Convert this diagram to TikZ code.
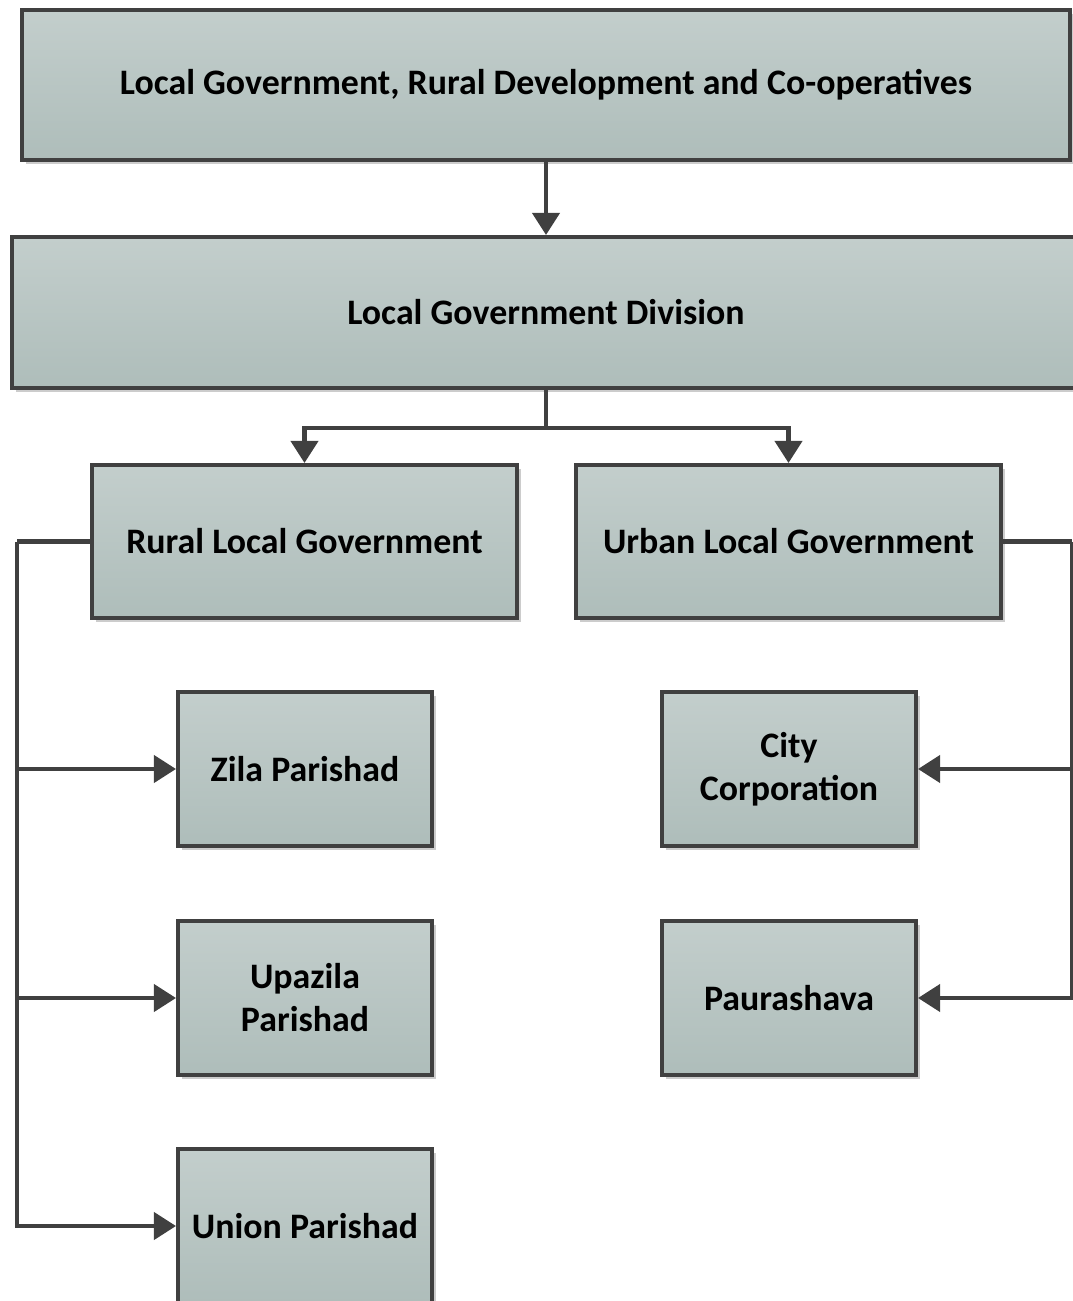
\documentclass[tikz,border=0pt]{standalone}
\usepackage{fontspec}
\setmainfont{Carlito}
\usetikzlibrary{arrows.meta,shadows}
\definecolor{boxtop}{HTML}{C3CECC}
\definecolor{boxbot}{HTML}{AEBDBA}
\definecolor{edge}{HTML}{404040}
\begin{document}
\begin{tikzpicture}[
    box/.style={draw=edge, line width=2.3pt, top color=boxtop, bottom color=boxbot,
      font=\bfseries\fontsize{20.4}{24.5}\selectfont, align=center, inner sep=0pt,
      drop shadow={shadow xshift=2pt, shadow yshift=-2pt, opacity=0.2, fill=black}},
    wide/.style={box, minimum width=8.5cm, minimum height=3.06cm},
    small/.style={box, minimum width=5.08cm, minimum height=3.08cm},
    link/.style={draw=edge, line width=2.3pt},
    arr/.style={link, -{Triangle[length=0.44cm,width=0.54cm]}}
  ]
  \useasboundingbox (0,0) rectangle (21.46,-26.02);
  % ministry and division
  \node [box, minimum width=20.96cm, minimum height=3cm] (lgrd) at (10.92,-1.7) {Local Government, Rural Development and Co-operatives};
  \node [box, minimum width=21.36cm, minimum height=3.02cm] (lgd) at (10.92,-6.25) {Local Government Division};
  % two branches
  \node [wide] (rural) at (6.09,-10.83) {Rural Local Government};
  \node [wide] (urban) at (15.77,-10.83) {Urban Local Government};
  % rural bodies
  \node [small] (zila) at (6.1,-15.38) {Zila Parishad};
  \node [small] (upazila) at (6.1,-19.96) {Upazila\\Parishad};
  \node [small] (union) at (6.1,-24.52) {Union Parishad};
  % urban bodies
  \node [small] (city) at (15.78,-15.38) {City\\Corporation};
  \node [small] (paura) at (15.78,-19.96) {Paurashava};
  \coordinate (split) at (10.92,-8.56);
  \coordinate (lbus) at (0.34,-10.83);
  \coordinate (rbus) at (21.44,-10.83);
  \draw [arr] (lgrd) -- (lgd);
  \draw [link] (lgd) -- (split);
  \draw [arr] (split) -| (rural);
  \draw [arr] (split) -| (urban);
  \draw [link] (rural) -- (lbus);
  \draw [arr] (lbus) |- (zila);
  \draw [arr] (lbus) |- (upazila);
  \draw [arr] (lbus) |- (union);
  \draw [link] (urban) -- (rbus);
  \draw [arr] (rbus) |- (city);
  \draw [arr] (rbus) |- (paura);
\end{tikzpicture}
\end{document}
